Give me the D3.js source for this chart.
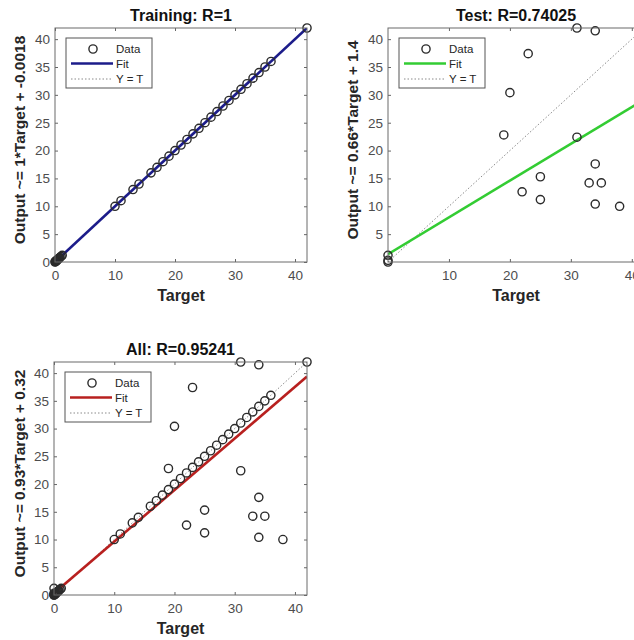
<!DOCTYPE html>
<meta charset="utf-8">
<html lang="en">
<head>
	<title>Regression plots</title>
	<script src="https://d3js.org/d3.v7.min.js"></script>
	<style>
		body { margin: 0; background: #fff; }
		text { font-family: "Liberation Sans", Arial, sans-serif; }
	</style>
</head>
<body>
	<script>
// data
var trainTargets = [0, 0.05, 0.1, 0.15, 0.2, 0.25, 0.3, 0.4, 0.5, 0.6, 0.7, 0.8, 1, 1.2,
    10, 11, 13, 14, 16, 17, 18, 19, 20, 21, 22, 23, 24, 25, 26, 27, 28, 29,
    30, 31, 32, 33, 34, 35, 36, 42];
var trainOutputs = [0, 0.05, 0.1, 0.15, 0.2, 0.25, 0.3, 0.4, 0.5, 0.6, 0.7, 0.8, 1, 1.2,
    10, 11, 13, 14, 16, 17, 18, 19, 20, 21, 22, 23, 24, 25, 26, 27, 28, 29,
    30, 31, 32, 33, 34, 35, 36, 42];

var testTargets = [0, 0, 0, 31, 34, 23, 20, 19, 31, 34, 25, 33, 35, 22, 25, 34, 38];
var testOutputs = [0, 0.3, 1.2, 42, 41.5, 37.4, 30.4, 22.8, 22.4, 17.6, 15.3, 14.2, 14.2, 12.6, 11.2, 10.4, 10];

var trainFit = [1, -0.0018];   // slope, intercept
var testFit = [0.66, 1.4];
var allFit = [0.93, 0.32];

var ticksX = [0, 10, 20, 30, 40];
var ticksY = [0, 5, 10, 15, 20, 25, 30, 35, 40];
var testTicksX = [10, 20, 30, 40];
var testTicksY = [5, 10, 15, 20, 25, 30, 35, 40];

var domainMax = 42;

var svg = d3.select("body").append("svg")
    .attr("width", 634)
    .attr("height", 640);

var panels = [
  { x: 55, y: 28, w: 252, h: 234, title: "Training: R=1",
    ylabel: "Output ~= 1*Target + -0.0018", labelX: 20,
    tx: trainTargets, ty: trainOutputs, fit: trainFit, color: "#1c1c8a",
    xt: ticksX, yt: ticksY },
  { x: 388, y: 28, w: 256, h: 234, title: "Test: R=0.74025",
    ylabel: "Output ~= 0.66*Target + 1.4", labelX: 353,
    tx: testTargets, ty: testOutputs, fit: testFit, color: "#33cc33",
    xt: testTicksX, yt: testTicksY },
  { x: 54, y: 362, w: 253, h: 233, title: "All: R=0.95241",
    ylabel: "Output ~= 0.93*Target + 0.32", labelX: 20,
    tx: trainTargets.concat(testTargets), ty: trainOutputs.concat(testOutputs),
    fit: allFit, color: "#b8201f",
    xt: ticksX, yt: ticksY }
];

panels.forEach(function(p, i) {
  var g = svg.append("g").attr("transform", "translate(" + p.x + "," + p.y + ")");

  var x = d3.scaleLinear().domain([0, domainMax]).range([0, p.w]);
  var y = d3.scaleLinear().domain([0, domainMax]).range([p.h, 0]);

  g.append("clipPath").attr("id", "clip" + i)
    .append("rect").attr("width", p.w).attr("height", p.h);

  g.append("rect")
      .attr("width", p.w).attr("height", p.h)
      .style("fill", "#fff");

  // axes, ticks pointing inward, mirrored on top/right
  var tickStyle = function(sel) {
    sel.select(".domain").remove();
    sel.selectAll("line").style("stroke", "#666");
    sel.selectAll("text")
      .style("font-size", "13.5px")
      .style("fill", "#4d4d4d");
  };

  g.append("g").attr("transform", "translate(0," + p.h + ")")
    .call(d3.axisBottom(x).tickValues(p.xt).tickSize(-3).tickPadding(8).tickFormat(d3.format("d")))
    .call(tickStyle);
  g.append("g")
    .call(d3.axisLeft(y).tickValues(p.yt).tickSize(-3).tickPadding(5).tickFormat(d3.format("d")))
    .call(tickStyle);
  g.append("g")
    .call(d3.axisTop(x).tickValues(p.xt).tickSize(-3).tickFormat(""))
    .call(tickStyle);
  g.append("g").attr("transform", "translate(" + p.w + ",0)")
    .call(d3.axisRight(y).tickValues(p.yt).tickSize(-3).tickFormat(""))
    .call(tickStyle);

  var plot = g.append("g").attr("clip-path", "url(#clip" + i + ")");

  // Y = T
  plot.append("line")
      .attr("x1", x(0)).attr("y1", y(0))
      .attr("x2", x(domainMax)).attr("y2", y(domainMax))
      .style("stroke", "#8a8a8a")
      .style("stroke-width", 1)
      .style("stroke-dasharray", "1.5,2");

  // fit
  plot.append("line")
      .attr("x1", x(0)).attr("y1", y(p.fit[1]))
      .attr("x2", x(domainMax)).attr("y2", y(p.fit[0] * domainMax + p.fit[1]))
      .style("stroke", p.color)
      .style("stroke-width", 2.6);

  // data
  var pts = p.tx.map(function(t, j) { return [t, p.ty[j]]; });
  g.append("g").selectAll("circle")
      .data(pts)
    .enter().append("circle")
      .attr("cx", function(d) { return x(d[0]); })
      .attr("cy", function(d) { return y(d[1]); })
      .attr("r", 4.1)
      .style("fill", "none")
      .style("stroke", "#2b2b2b")
      .style("stroke-width", 1.4);

  // box
  g.append("rect")
      .attr("width", p.w).attr("height", p.h)
      .style("fill", "none")
      .style("stroke", "#6b6b6b")
      .style("stroke-width", 1);

  // title and labels
  g.append("text")
      .attr("x", p.w / 2).attr("y", -7)
      .attr("text-anchor", "middle")
      .style("font-size", "16px").style("font-weight", "bold")
      .style("fill", "#111")
      .text(p.title);

  g.append("text")
      .attr("x", p.w / 2).attr("y", p.h + 39)
      .attr("text-anchor", "middle")
      .style("font-size", "16px").style("font-weight", "bold")
      .style("fill", "#262626")
      .text("Target");

  svg.append("text")
      .attr("transform", "translate(" + p.labelX + "," + (p.y + p.h / 2 - 5) + ") rotate(-90)")
      .attr("dy", "0.35em")
      .attr("text-anchor", "middle")
      .style("font-size", "15.5px").style("font-weight", "bold")
      .style("fill", "#262626")
      .text(p.ylabel);

  // legend
  var lg = g.append("g").attr("transform", "translate(11,10)");
  lg.append("rect")
      .attr("width", 86).attr("height", 50)
      .style("fill", "#fff")
      .style("stroke", "#555")
      .style("stroke-width", 1);
  lg.append("circle")
      .attr("cx", 27).attr("cy", 11).attr("r", 4.1)
      .style("fill", "none").style("stroke", "#2b2b2b").style("stroke-width", 1.4);
  lg.append("line")
      .attr("x1", 5).attr("x2", 47).attr("y1", 25.5).attr("y2", 25.5)
      .style("stroke", p.color).style("stroke-width", 2.6);
  lg.append("line")
      .attr("x1", 5).attr("x2", 47).attr("y1", 41).attr("y2", 41)
      .style("stroke", "#8a8a8a").style("stroke-width", 1).style("stroke-dasharray", "1.5,2");
  var labels = ["Data", "Fit", "Y = T"];
  lg.selectAll(".lt").data(labels).enter().append("text")
      .attr("class", "lt")
      .attr("x", 50)
      .attr("y", function(d, k) { return 11 + k * 15; })
      .attr("dy", "0.35em")
      .style("font-size", "11.5px")
      .style("fill", "#262626")
      .text(function(d) { return d; });
});
	</script>
</body>
</html>
